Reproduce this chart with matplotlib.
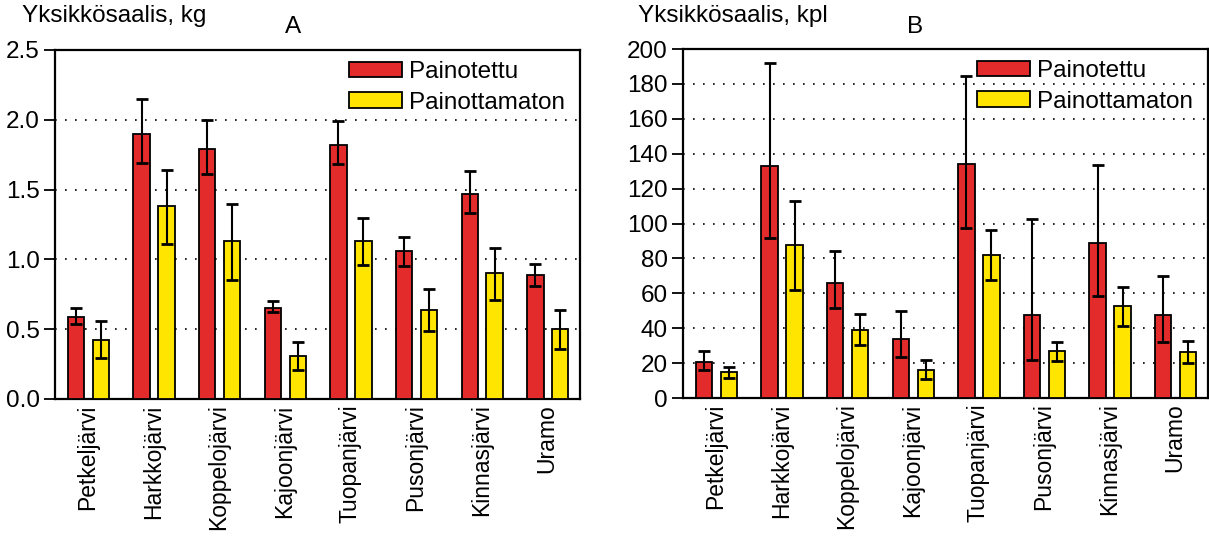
import numpy as np
import matplotlib
matplotlib.use("Agg")
import matplotlib.pyplot as plt

plt.rcParams['font.family'] = ['Liberation Sans', 'DejaVu Sans']

lakes = ['Petkeljärvi', 'Harkkojärvi', 'Koppelojärvi', 'Kajoonjärvi',
         'Tuopanjärvi', 'Pusonjärvi', 'Kinnasjärvi', 'Uramo']

# A: Yksikkösaalis, kg
kg_pain = [0.59, 1.90, 1.79, 0.65, 1.82, 1.06, 1.47, 0.89]
kg_pain_lo = [0.54, 1.69, 1.61, 0.62, 1.68, 0.95, 1.33, 0.81]
kg_pain_hi = [0.65, 2.15, 2.00, 0.70, 1.99, 1.16, 1.63, 0.97]
kg_unw = [0.42, 1.38, 1.13, 0.31, 1.13, 0.64, 0.90, 0.50]
kg_unw_lo = [0.29, 1.11, 0.85, 0.21, 0.96, 0.49, 0.71, 0.36]
kg_unw_hi = [0.56, 1.64, 1.40, 0.41, 1.30, 0.79, 1.08, 0.64]

# B: Yksikkösaalis, kpl
kpl_pain = [20.4, 133.2, 65.8, 33.9, 134.0, 47.5, 88.7, 47.5]
kpl_pain_lo = [15.8, 91.8, 51.3, 23.3, 97.3, 21.9, 58.7, 32.0]
kpl_pain_hi = [27.1, 192.2, 84.3, 49.6, 184.3, 102.7, 133.6, 70.0]
kpl_unw = [14.7, 87.6, 39.1, 16.2, 82.2, 27.1, 52.5, 26.3]
kpl_unw_lo = [11.4, 62.0, 30.5, 10.9, 67.9, 21.4, 41.4, 20.0]
kpl_unw_hi = [17.9, 113.0, 47.9, 21.5, 96.4, 32.2, 63.9, 32.8]

RED = '#e32b2b'
YEL = '#ffe500'


def panel(ax, w, w_lo, w_hi, u, u_lo, u_hi, ymax, step, fmt):
    x = np.arange(len(lakes))
    w = np.array(w); u = np.array(u)
    ew = [w - np.array(w_lo), np.array(w_hi) - w]
    eu = [u - np.array(u_lo), np.array(u_hi) - u]
    ekw = dict(elinewidth=1.5, capthick=2, ecolor='black')
    ax.bar(x + 0.32, w, 0.25, color=RED, edgecolor='black', linewidth=1.3,
           yerr=ew, capsize=4, error_kw=ekw, label='Painotettu', zorder=3)
    ax.bar(x + 0.70, u, 0.25, color=YEL, edgecolor='black', linewidth=1.3,
           yerr=eu, capsize=4, error_kw=ekw, label='Painottamaton', zorder=3)
    ax.set_xlim(0, len(lakes))
    ax.set_ylim(0, ymax)
    ticks = np.arange(0, ymax + step / 2, step)
    ax.set_yticks(ticks)
    ax.set_yticklabels([fmt.format(t) for t in ticks], fontsize=17.5)
    for t in ticks[1:-1]:
        ax.axhline(t, color='black', linestyle=(0, (1, 5)), linewidth=1.2, zorder=1)
    ax.set_xticks(x + 0.5)
    ax.set_xticklabels(lakes, rotation=90, fontsize=16.5)
    ax.tick_params(axis='x', length=0, pad=4)
    ax.tick_params(axis='y', direction='out', length=8, width=1.3, pad=3)
    for s in ax.spines.values():
        s.set_linewidth(1.6)
    ax.legend(loc='upper right', bbox_to_anchor=(1.0, 1.01), frameon=False, fontsize=17.5,
              handlelength=2.2, handleheight=0.6, handletextpad=0.3, labelspacing=0.35,
              borderaxespad=0.2)


fig = plt.figure(figsize=(12.09, 5.38), dpi=100)
ax1 = fig.add_axes([0.0455, 0.2584, 0.4342, 0.6487])
ax2 = fig.add_axes([0.5649, 0.2602, 0.4342, 0.6487])

panel(ax1, kg_pain, kg_pain_lo, kg_pain_hi, kg_unw, kg_unw_lo, kg_unw_hi, 2.5, 0.5, '{:.1f}')
panel(ax2, kpl_pain, kpl_pain_lo, kpl_pain_hi, kpl_unw, kpl_unw_lo, kpl_unw_hi, 200, 20, '{:.0f}')

fig.text(22 / 1209, 1 - 5 / 538, 'Yksikkösaalis, kg', fontsize=17.5, ha='left', va='top')
fig.text(638 / 1209, 1 - 5 / 538, 'Yksikkösaalis, kpl', fontsize=17.5, ha='left', va='top')
fig.text(293 / 1209, 1 - 16 / 538, 'A', fontsize=17.5, ha='center', va='top')
fig.text(915 / 1209, 1 - 16 / 538, 'B', fontsize=17.5, ha='center', va='top')

fig.savefig('out.png', dpi=100)
